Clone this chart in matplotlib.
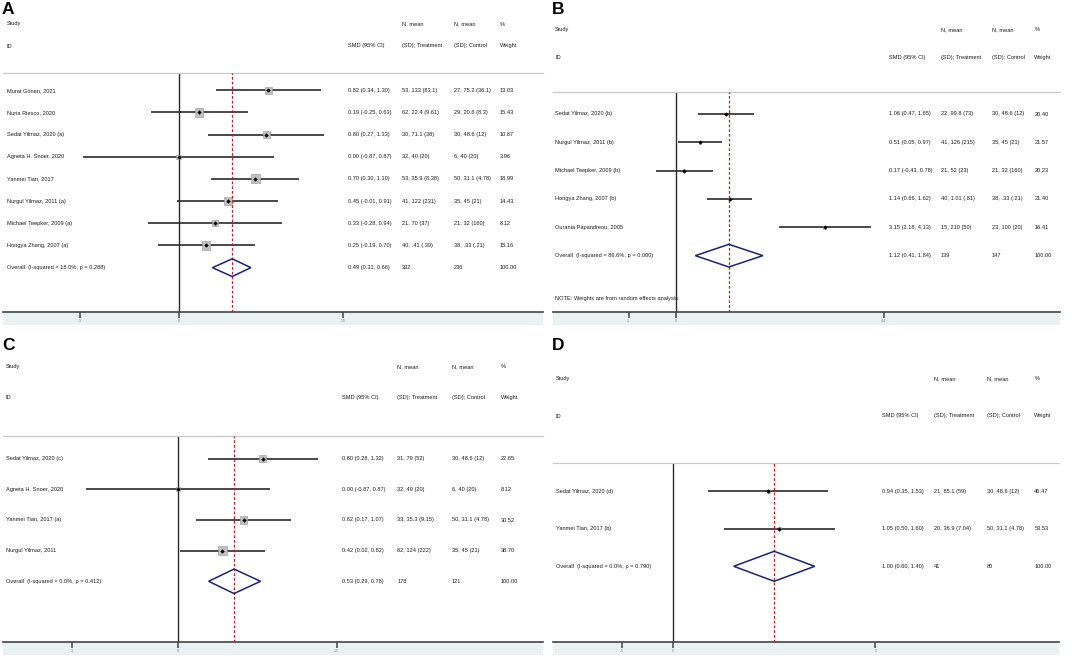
import matplotlib
matplotlib.use("Agg")
import matplotlib.pyplot as plt
import matplotlib.transforms as mtransforms
from matplotlib.patches import Polygon, Rectangle
import numpy as np

plt.rcParams['font.family'] = ['Liberation Sans', 'DejaVu Sans']

W, H = 1084, 657

# ---- panel A data
a_study = ["Murat Gönen, 2021", "Nuria Riesco, 2020", "Sedat Yilmaz, 2020 (a)",
           "Agneta H. Snoer, 2020", "Yanmei Tian, 2017", "Nurgul Yilmaz, 2011 (a)",
           "Michael Teepker, 2009 (a)", "Hongya Zhang, 2007 (a)"]
a_smd = [0.82, 0.19, 0.80, 0.00, 0.70, 0.45, 0.33, 0.25]
a_lo = [0.34, -0.25, 0.27, -0.87, 0.30, -0.01, -0.28, -0.19]
a_hi = [1.30, 0.63, 1.33, 0.87, 1.10, 0.91, 0.94, 0.70]
a_treat = ["53, 133 (83.1)", "62, 22.4 (9.61)", "30, 71.1 (38)", "32, 40 (20)",
           "53, 35.9 (8.38)", "41, 122 (231)", "21, 70 (37)", "40, .41 (.39)"]
a_ctrl = ["27, 75.2 (36.1)", "29, 20.6 (8.3)", "30, 48.6 (12)", "6, 40 (20)",
          "50, 31.1 (4.78)", "35, 45 (21)", "21, 32 (160)", "38, .33 (.21)"]
a_weight = [13.03, 15.43, 10.87, 3.96, 18.99, 14.43, 8.12, 15.16]
a_overall = [0.49, 0.31, 0.66]
a_overall_label = "Overall  (I-squared = 18.0%, p = 0.288)"
a_overall_n = ["332", "236"]
a_ticks = [-0.9, 0, 1.5]
a_ticklabels = ["-.9", "0", "1.5"]

# ---- panel B data
b_study = ["Sedat Yilmaz, 2020 (b)", "Nurgul Yilmaz, 2011 (b)", "Michael Teepker, 2009 (b)",
           "Hongya Zhang, 2007 (b)", "Ourania Papandreou, 2005"]
b_smd = [1.06, 0.51, 0.17, 1.14, 3.15]
b_lo = [0.47, 0.05, -0.43, 0.66, 2.18]
b_hi = [1.65, 0.97, 0.78, 1.62, 4.13]
b_treat = ["22, 99.8 (73)", "41, 126 (215)", "21, 52 (23)", "40, 1.01 (.81)", "15, 210 (50)"]
b_ctrl = ["30, 48.6 (12)", "35, 45 (21)", "21, 32 (160)", "38, .33 (.21)", "23, 100 (20)"]
b_weight = [20.40, 21.57, 20.23, 21.40, 16.41]
b_overall = [1.12, 0.41, 1.84]
b_overall_label = "Overall  (I-squared = 86.6%, p = 0.000)"
b_overall_n = ["139", "147"]
b_ticks = [-1.0, 0, 4.4]
b_ticklabels = ["-1", "0", "4.4"]
b_note = "NOTE: Weights are from random effects analysis"

# ---- panel C data
c_study = ["Sedat Yilmaz, 2020 (c)", "Agneta H. Snoer, 2020", "Yanmei Tian, 2017 (a)",
           "Nurgul Yilmaz, 2011"]
c_smd = [0.80, 0.00, 0.62, 0.42]
c_lo = [0.28, -0.87, 0.17, 0.02]
c_hi = [1.32, 0.87, 1.07, 0.82]
c_treat = ["31, 79 (52)", "32, 40 (20)", "33, 35.3 (9.15)", "82, 124 (222)"]
c_ctrl = ["30, 48.6 (12)", "6, 40 (20)", "50, 31.1 (4.78)", "35, 45 (21)"]
c_weight = [22.65, 8.12, 30.52, 38.70]
c_overall = [0.53, 0.29, 0.78]
c_overall_label = "Overall  (I-squared = 0.0%, p = 0.412)"
c_overall_n = ["178", "121"]
c_ticks = [-1.0, 0, 1.5]
c_ticklabels = ["-1", "0", "1.5"]

# ---- panel D data
d_study = ["Sedat Yilmaz, 2020 (d)", "Yanmei Tian, 2017 (b)"]
d_smd = [0.94, 1.05]
d_lo = [0.35, 0.50]
d_hi = [1.53, 1.60]
d_treat = ["21, 85.1 (59)", "20, 36.9 (7.04)"]
d_ctrl = ["30, 48.6 (12)", "50, 31.1 (4.78)"]
d_weight = [46.47, 53.53]
d_overall = [1.00, 0.60, 1.40]
d_overall_label = "Overall  (I-squared = 0.0%, p = 0.790)"
d_overall_n = ["41", "80"]
d_ticks = [-0.5, 0, 2.0]
d_ticklabels = ["-.5", "0", "2"]

TXT = '#1a1a1a'
FS = 4.1

fig = plt.figure(figsize=(W / 100, H / 100), dpi=100)


def draw_panel(letter, study, smd, lo, hi, treat, ctrl, weight, overall, overall_label,
               overall_n, ticks, ticklabels, g, note=None):
    left, right, top, bottom = g['box']
    x0, scale = g['x0'], g['scale']
    row0, step = g['row0'], g['step']
    ax = fig.add_axes([left / W, 1 - bottom / H, (right - left) / W, (bottom - top) / H])
    ax.set_xlim((left - x0) / scale, (right - x0) / scale)
    ax.set_ylim((bottom - row0) / step, (top - row0) / step)
    ax.set_facecolor('none')

    for s in ['left', 'right']:
        ax.spines[s].set_visible(False)
    ax.spines['top'].set_color('#c8c8c8')
    ax.spines['top'].set_linewidth(0.9)
    ax.spines['bottom'].set_color('#444444')
    ax.spines['bottom'].set_linewidth(1.2)
    ax.set_yticks([])
    ax.set_xticks(ticks)
    ax.set_xticklabels(ticklabels)
    ax.tick_params(axis='x', length=4, width=1.1, color='#444444', labelsize=2.5,
                   labelcolor='#777777', pad=1.5)

    band_h = 13 / (bottom - top)
    ax.add_patch(Rectangle((0, -band_h), 1, band_h, transform=ax.transAxes,
                           facecolor='#eaf1f3', edgecolor='none', clip_on=False, zorder=0))

    n = len(study)
    rows = np.arange(n)
    ax.axvline(0, color='#2a2a2a', lw=1.0, zorder=2)
    ax.axvline(overall[0], color='#b22222', lw=0.9, ls=(0, (2.2, 1.6)), zorder=4)

    for i in range(n):
        ax.plot([lo[i], hi[i]], [rows[i], rows[i]], color='#2a2a2a', lw=1.2, zorder=3,
                solid_capstyle='butt')
    side = g['box_k'] * np.sqrt(np.array(weight)) * 0.72
    ax.scatter(smd, rows, marker='s', s=side ** 2, facecolor='#c0c0c0',
               edgecolor='#939393', linewidths=0.4, zorder=3)
    ax.scatter(smd, rows, marker='D', s=5, color='black', zorder=5, linewidths=0)

    yo = n
    est, olo, ohi = overall
    hh = 0.4
    ax.add_patch(Polygon([[olo, yo], [est, yo - hh], [ohi, yo], [est, yo + hh]],
                         closed=True, fill=False, edgecolor='#1c2470', lw=1.1, zorder=4))

    tr = mtransforms.blended_transform_factory(fig.transFigure, ax.transData)
    cx = g['cols']
    for i in range(n):
        ax.text(cx[0] / W, rows[i], study[i], transform=tr, fontsize=FS, color=TXT,
                va='center', ha='left')
        ax.text(cx[1] / W, rows[i], f"{smd[i]:.2f} ({lo[i]:.2f}, {hi[i]:.2f})", transform=tr,
                fontsize=FS, color=TXT, va='center', ha='left')
        ax.text(cx[2] / W, rows[i], treat[i], transform=tr, fontsize=FS, color=TXT,
                va='center', ha='left')
        ax.text(cx[3] / W, rows[i], ctrl[i], transform=tr, fontsize=FS, color=TXT,
                va='center', ha='left')
        ax.text(cx[4] / W, rows[i], f"{weight[i]:.2f}", transform=tr, fontsize=FS, color=TXT,
                va='center', ha='left')
    ax.text(cx[0] / W, yo, overall_label, transform=tr, fontsize=FS, color=TXT,
            va='center', ha='left')
    ax.text(cx[1] / W, yo, f"{est:.2f} ({olo:.2f}, {ohi:.2f})", transform=tr,
            fontsize=FS, color=TXT, va='center', ha='left')
    ax.text(cx[2] / W, yo, overall_n[0], transform=tr, fontsize=FS, color=TXT,
            va='center', ha='left')
    ax.text(cx[3] / W, yo, overall_n[1], transform=tr, fontsize=FS, color=TXT,
            va='center', ha='left')
    ax.text(cx[4] / W, yo, "100.00", transform=tr, fontsize=FS, color=TXT,
            va='center', ha='left')
    if note is not None:
        ax.text(cx[0] / W, yo + 1.5, note, transform=tr, fontsize=FS, color=TXT,
                va='center', ha='left')

    # header
    h1, h2 = g['head']
    fig.text(cx[0] / W, 1 - h1 / H, "Study", fontsize=FS, color=TXT, va='center')
    fig.text(cx[0] / W, 1 - h2 / H, "ID", fontsize=FS, color=TXT, va='center')
    fig.text(cx[1] / W, 1 - h2 / H, "SMD (95% CI)", fontsize=FS, color=TXT, va='center')
    fig.text(cx[2] / W, 1 - h1 / H, "N, mean", fontsize=FS, color=TXT, va='center')
    fig.text(cx[2] / W, 1 - h2 / H, "(SD); Treatment", fontsize=FS, color=TXT, va='center')
    fig.text(cx[3] / W, 1 - h1 / H, "N, mean", fontsize=FS, color=TXT, va='center')
    fig.text(cx[3] / W, 1 - h2 / H, "(SD); Control", fontsize=FS, color=TXT, va='center')
    fig.text(cx[4] / W, 1 - h1 / H, "%", fontsize=FS, color=TXT, va='center')
    fig.text(cx[4] / W, 1 - h2 / H, "Weight", fontsize=FS, color=TXT, va='center')

    lx, ly = g['letter']
    fig.text(lx / W, 1 - ly / H, letter, fontsize=12.5, fontweight='bold', color='black',
             va='center', ha='left')
    return ax


geom_a = dict(box=(3, 543, 73.3, 311.7), x0=178.5, scale=109.6, row0=90.3, step=22.17,
              cols=(6.7, 348.3, 401.7, 454, 500), head=(24, 46), box_k=2.07, letter=(2, 10))
geom_b = dict(box=(553, 1060, 92, 311.7), x0=676, scale=47.2, row0=114, step=28.33,
              cols=(555, 889, 941, 992, 1034.3), head=(29.3, 57.7), box_k=0.6, letter=(552, 10))
geom_c = dict(box=(3, 543, 435.7, 641.7), x0=178, scale=105.75, row0=458.7, step=30.65,
              cols=(6, 341.7, 397.3, 451.7, 500.7), head=(366.7, 397.7), box_k=1.4,
              letter=(2, 346))
geom_d = dict(box=(553, 1059, 463, 641.7), x0=673, scale=101.2, row0=491.3, step=37.5,
              cols=(556, 881.7, 934, 986.7, 1034.3), head=(378.3, 416), box_k=0.45,
              letter=(552, 346))

draw_panel("A", a_study, a_smd, a_lo, a_hi, a_treat, a_ctrl, a_weight, a_overall,
           a_overall_label, a_overall_n, a_ticks, a_ticklabels, geom_a)
draw_panel("B", b_study, b_smd, b_lo, b_hi, b_treat, b_ctrl, b_weight, b_overall,
           b_overall_label, b_overall_n, b_ticks, b_ticklabels, geom_b, note=b_note)
draw_panel("C", c_study, c_smd, c_lo, c_hi, c_treat, c_ctrl, c_weight, c_overall,
           c_overall_label, c_overall_n, c_ticks, c_ticklabels, geom_c)
draw_panel("D", d_study, d_smd, d_lo, d_hi, d_treat, d_ctrl, d_weight, d_overall,
           d_overall_label, d_overall_n, d_ticks, d_ticklabels, geom_d)

fig.savefig("out.png", dpi=100)
